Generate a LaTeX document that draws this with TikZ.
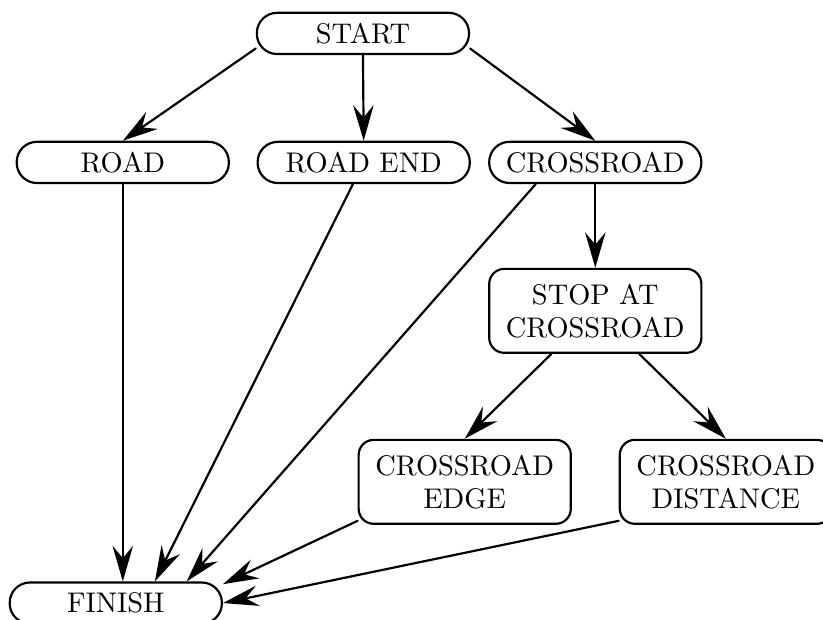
\documentclass[tikz,border=0pt]{standalone}
\usetikzlibrary{arrows.meta}

\begin{document}
\begin{tikzpicture}[line cap=round,line join=round,
    every node/.style={font=\fontsize{10.4}{12.2}\selectfont},
    stadium/.style={draw,thick,rounded corners=7.4pt,minimum width=2.73cm,minimum height=0.53cm,inner sep=2pt},
    block/.style={draw,thick,rounded corners=5.5pt,minimum width=2.73cm,minimum height=1.08cm,align=center,inner sep=2pt},
    flow/.style={thick,-{Stealth[length=13pt,width=7.5pt,inset=4.5pt]}}]
  \useasboundingbox (0,0) rectangle (10.59,-7.97);
  % nodes
  \node[stadium] (start) at (4.67,-0.43) {START};
  \node[stadium] (road) at (1.58,-2.09) {ROAD};
  \node[stadium] (roadend) at (4.68,-2.09) {ROAD END};
  \node[stadium] (cross) at (7.66,-2.09) {CROSSROAD};
  \node[block] (stop) at (7.66,-4.00) {STOP AT\\CROSSROAD};
  \node[block] (edge) at (5.98,-6.20) {CROSSROAD\\EDGE};
  \node[block] (dist) at (9.34,-6.20) {CROSSROAD\\DISTANCE};
  \node[stadium] (finish) at (1.49,-7.76) {FINISH};
  % connectors
  \draw[flow] (start.188) -- (road.north);
  \draw[flow] (start.south) -- (roadend.north);
  \draw[flow] (start.-8) -- (cross.north);
  \draw[flow] (cross.south) -- (stop.north);
  \draw[flow] (stop) -- (edge.north);
  \draw[flow] (stop) -- (dist.north);
  \draw[flow] (road.south) -- (road.south |- finish.north);
  \draw[flow] (roadend) -- (finish.29);
  \draw[flow] (cross.200) -- (finish.17);
  \draw[flow] (edge.200) -- (finish.10);
  \draw[flow] (dist.200) -- (finish.east);
\end{tikzpicture}
\end{document}
